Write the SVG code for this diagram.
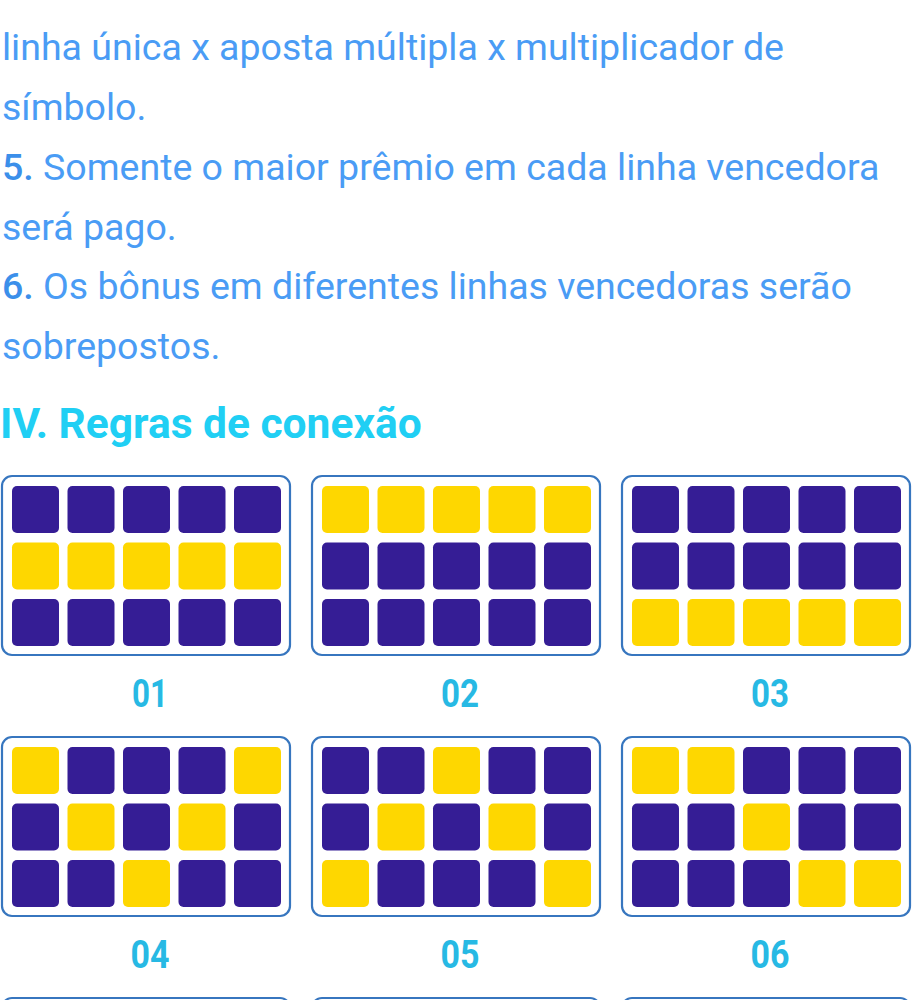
<svg xmlns="http://www.w3.org/2000/svg" width="912" height="1000" viewBox="0 0 912 1000">
<style>
.body{font-family:Roboto,"Liberation Sans",sans-serif;font-size:37.5px;fill:#4a9cf5}
.num{font-weight:500;fill:#3b8fea}
.head{font-family:Roboto,"Liberation Sans",sans-serif;font-size:42.5px;font-weight:700;fill:#20cff4}
.lbl{font-family:Roboto,"Liberation Sans",sans-serif;font-size:39px;font-weight:700;fill:#27b9e4;text-anchor:middle}
.panel{fill:#fff;stroke:#3776bf;stroke-width:2.2}
.d{fill:#351d95}
.y{fill:#fed700}
</style>
<defs>
<rect id="c" width="47" height="47" rx="5"/>
</defs>
<rect width="912" height="1000" fill="#fff"/>
<g id="text">
<text class="body" x="2" y="60">linha única x aposta múltipla x multiplicador de</text>
<text class="body" x="2" y="120">símbolo.</text>
<text class="body" x="2" y="180"><tspan class="num">5.</tspan> Somente o maior prêmio em cada linha vencedora</text>
<text class="body" x="2" y="240">será pago.</text>
<text class="body" x="2" y="299"><tspan class="num">6.</tspan> Os bônus em diferentes linhas vencedoras serão</text>
<text class="body" x="2" y="359">sobrepostos.</text>
<text class="head" x="0" y="438">IV. Regras de conexão</text>
</g>
<g id="panel01">
<rect class="panel" x="2" y="476" width="288" height="179" rx="10"/>
<g class="d"><use href="#c" x="12" y="486"/><use href="#c" x="67.5" y="486"/><use href="#c" x="123" y="486"/><use href="#c" x="178.5" y="486"/><use href="#c" x="234" y="486"/></g>
<g class="y"><use href="#c" x="12" y="542.5"/><use href="#c" x="67.5" y="542.5"/><use href="#c" x="123" y="542.5"/><use href="#c" x="178.5" y="542.5"/><use href="#c" x="234" y="542.5"/></g>
<g class="d"><use href="#c" x="12" y="599"/><use href="#c" x="67.5" y="599"/><use href="#c" x="123" y="599"/><use href="#c" x="178.5" y="599"/><use href="#c" x="234" y="599"/></g>
<text class="lbl" x="150" y="707" textLength="36" lengthAdjust="spacingAndGlyphs">01</text>
</g>
<g id="panel02">
<rect class="panel" x="312" y="476" width="288" height="179" rx="10"/>
<g class="y"><use href="#c" x="322" y="486"/><use href="#c" x="377.5" y="486"/><use href="#c" x="433" y="486"/><use href="#c" x="488.5" y="486"/><use href="#c" x="544" y="486"/></g>
<g class="d"><use href="#c" x="322" y="542.5"/><use href="#c" x="377.5" y="542.5"/><use href="#c" x="433" y="542.5"/><use href="#c" x="488.5" y="542.5"/><use href="#c" x="544" y="542.5"/></g>
<g class="d"><use href="#c" x="322" y="599"/><use href="#c" x="377.5" y="599"/><use href="#c" x="433" y="599"/><use href="#c" x="488.5" y="599"/><use href="#c" x="544" y="599"/></g>
<text class="lbl" x="460" y="707" textLength="38" lengthAdjust="spacingAndGlyphs">02</text>
</g>
<g id="panel03">
<rect class="panel" x="622" y="476" width="288" height="179" rx="10"/>
<g class="d"><use href="#c" x="632" y="486"/><use href="#c" x="687.5" y="486"/><use href="#c" x="743" y="486"/><use href="#c" x="798.5" y="486"/><use href="#c" x="854" y="486"/></g>
<g class="d"><use href="#c" x="632" y="542.5"/><use href="#c" x="687.5" y="542.5"/><use href="#c" x="743" y="542.5"/><use href="#c" x="798.5" y="542.5"/><use href="#c" x="854" y="542.5"/></g>
<g class="y"><use href="#c" x="632" y="599"/><use href="#c" x="687.5" y="599"/><use href="#c" x="743" y="599"/><use href="#c" x="798.5" y="599"/><use href="#c" x="854" y="599"/></g>
<text class="lbl" x="770" y="707" textLength="38" lengthAdjust="spacingAndGlyphs">03</text>
</g>
<g id="panel04">
<rect class="panel" x="2" y="737" width="288" height="179" rx="10"/>
<use href="#c" class="y" x="12" y="747"/><use href="#c" class="d" x="67.5" y="747"/><use href="#c" class="d" x="123" y="747"/><use href="#c" class="d" x="178.5" y="747"/><use href="#c" class="y" x="234" y="747"/>
<use href="#c" class="d" x="12" y="803.5"/><use href="#c" class="y" x="67.5" y="803.5"/><use href="#c" class="d" x="123" y="803.5"/><use href="#c" class="y" x="178.5" y="803.5"/><use href="#c" class="d" x="234" y="803.5"/>
<use href="#c" class="d" x="12" y="860"/><use href="#c" class="d" x="67.5" y="860"/><use href="#c" class="y" x="123" y="860"/><use href="#c" class="d" x="178.5" y="860"/><use href="#c" class="d" x="234" y="860"/>
<text class="lbl" x="150" y="968" textLength="39" lengthAdjust="spacingAndGlyphs">04</text>
</g>
<g id="panel05">
<rect class="panel" x="312" y="737" width="288" height="179" rx="10"/>
<use href="#c" class="d" x="322" y="747"/><use href="#c" class="d" x="377.5" y="747"/><use href="#c" class="y" x="433" y="747"/><use href="#c" class="d" x="488.5" y="747"/><use href="#c" class="d" x="544" y="747"/>
<use href="#c" class="d" x="322" y="803.5"/><use href="#c" class="y" x="377.5" y="803.5"/><use href="#c" class="d" x="433" y="803.5"/><use href="#c" class="y" x="488.5" y="803.5"/><use href="#c" class="d" x="544" y="803.5"/>
<use href="#c" class="y" x="322" y="860"/><use href="#c" class="d" x="377.5" y="860"/><use href="#c" class="d" x="433" y="860"/><use href="#c" class="d" x="488.5" y="860"/><use href="#c" class="y" x="544" y="860"/>
<text class="lbl" x="460" y="968" textLength="39" lengthAdjust="spacingAndGlyphs">05</text>
</g>
<g id="panel06">
<rect class="panel" x="622" y="737" width="288" height="179" rx="10"/>
<use href="#c" class="y" x="632" y="747"/><use href="#c" class="y" x="687.5" y="747"/><use href="#c" class="d" x="743" y="747"/><use href="#c" class="d" x="798.5" y="747"/><use href="#c" class="d" x="854" y="747"/>
<use href="#c" class="d" x="632" y="803.5"/><use href="#c" class="d" x="687.5" y="803.5"/><use href="#c" class="y" x="743" y="803.5"/><use href="#c" class="d" x="798.5" y="803.5"/><use href="#c" class="d" x="854" y="803.5"/>
<use href="#c" class="d" x="632" y="860"/><use href="#c" class="d" x="687.5" y="860"/><use href="#c" class="d" x="743" y="860"/><use href="#c" class="y" x="798.5" y="860"/><use href="#c" class="y" x="854" y="860"/>
<text class="lbl" x="770" y="968" textLength="39" lengthAdjust="spacingAndGlyphs">06</text>
</g>
<g id="panel07"><rect class="panel" x="2" y="998" width="288" height="179" rx="10"/></g>
<g id="panel08"><rect class="panel" x="312" y="998" width="288" height="179" rx="10"/></g>
<g id="panel09"><rect class="panel" x="622" y="998" width="288" height="179" rx="10"/></g>
<g id="connectors"/>
</svg>
